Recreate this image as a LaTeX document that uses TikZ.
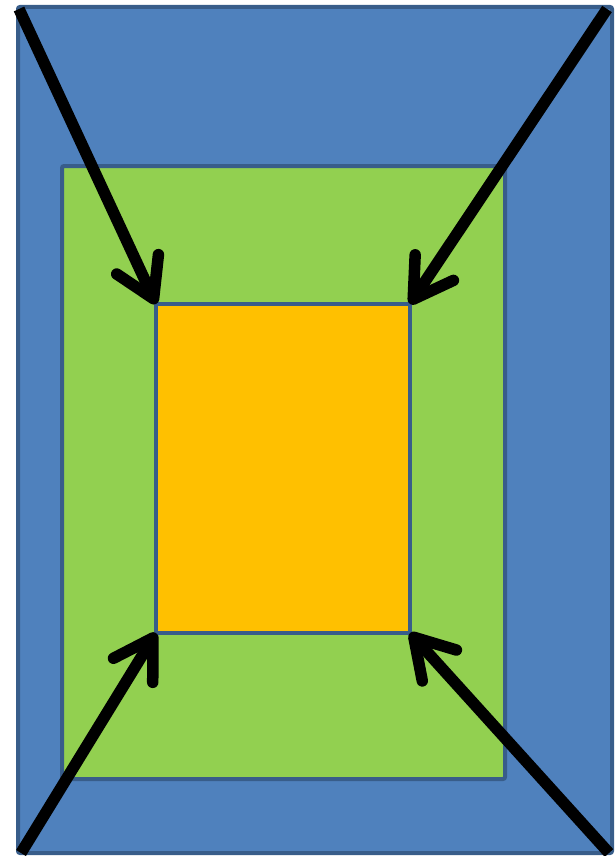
\documentclass[tikz,border=0pt]{standalone}
\usetikzlibrary{arrows.meta}
\definecolor{outerblue}{HTML}{4F81BD}
\definecolor{edgeblue}{HTML}{385D8A}
\definecolor{midgreen}{HTML}{92D050}
\definecolor{coreorange}{HTML}{FFC000}
\begin{document}
\begin{tikzpicture}[x=1pt,y=-1pt,
  panel/.style={draw=edgeblue,line width=4pt,rounded corners=2pt},
  pointer/.style={line width=11.5pt,
    -{Straight Barb[length=38pt,width=46pt,line cap=round,line join=round]}}]
\useasboundingbox (0,0) rectangle (615,856);
\draw[panel,fill=outerblue] (18,7) coordinate (otl) rectangle (612,853) coordinate (obr);
\draw[panel,fill=midgreen] (62,166) rectangle (505,779);
\draw[panel,fill=coreorange,rounded corners=0pt] (156,304) coordinate (ctl) rectangle (410,633) coordinate (cbr);
\coordinate (ctr) at (410,304);
\coordinate (cbl) at (156,633);
\coordinate (s1) at (19,9);
\coordinate (s2) at (607,9);
\coordinate (s3) at (21,853);
\coordinate (s4) at (609,853);
\draw[pointer] (s1) -- (ctl);
\draw[pointer] (s2) -- (ctr);
\draw[pointer] (s3) -- (cbl);
\draw[pointer] (s4) -- (cbr);
\end{tikzpicture}
\end{document}
